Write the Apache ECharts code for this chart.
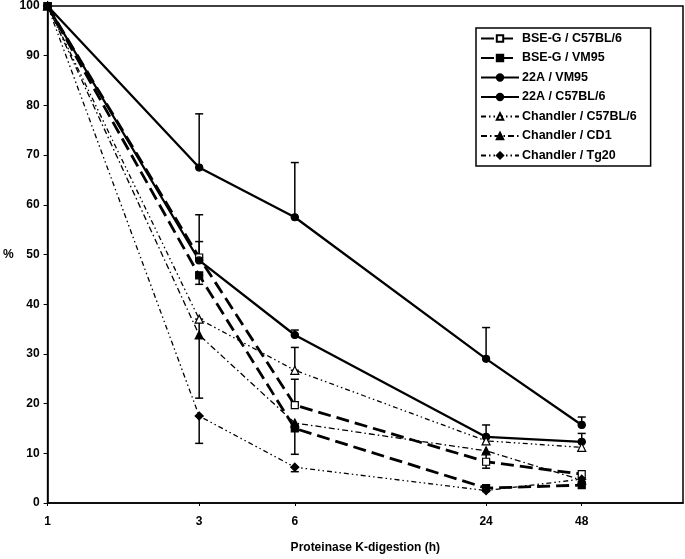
<!DOCTYPE html>
<html>
<head>
<meta charset="utf-8">
<script src="https://cdn.jsdelivr.net/npm/echarts@6/dist/echarts.min.js"></script>
<style>html,body{margin:0;padding:0;background:#fff}#c{width:685px;height:559px}</style>
</head>
<body>
<div id="c"></div>
<script>
var hours = [1, 3, 6, 24, 48];
var tickLabels = [1, 3, 6, 24, 48];
var yTicks = [0, 10, 20, 30, 40, 50, 60, 70, 80, 90, 100];
var bseC57 = [100, 49.4, 19.7, 8.3, 5.8];
var bseVM95 = [100, 45.8, 15.0, 3.0, 3.6];
var a22VM95 = [100, 67.5, 57.5, 29.0, 15.7];
var a22C57 = [100, 48.8, 33.8, 13.3, 12.3];
var chC57 = [100, 37.0, 26.7, 12.5, 11.2];
var chCD1 = [100, 33.8, 16.1, 10.5, 4.6];
var chTg20 = [100, 17.5, 7.2, 2.5, 4.8];
// error bars: [hour, low, high]
var errBars = [
  [3, 67.5, 78.3], [6, 57.5, 68.5], [24, 29.0, 35.3], [48, 15.7, 17.3],
  [3, 48.8, 58.0], [6, 33.8, 34.8], [24, 13.3, 15.7], [48, 12.3, 14.0],
  [3, 49.4, 52.6], [6, 19.7, 24.9],
  [3, 44.0, 45.8], [6, 9.8, 15.0],
  [3, 21.1, 37.0], [6, 26.7, 31.3],
  [3, 12.0, 17.5], [6, 6.3, 7.2],
  [24, 7.0, 10.0], [48, 10.5, 12.3]
];

function pairs(arr) { return hours.map(function (h, i) { return [h, arr[i]]; }); }

var FONT = 'Liberation Sans';
var chart = echarts.init(document.getElementById('c'), null, {renderer: 'canvas'});

function mk(name, data, symbol, fill, width, type, size) {
  return {
    name: name, type: 'line', data: pairs(data), symbol: symbol, symbolSize: size || 7,
    showAllSymbol: true, animation: false, z: 3,
    lineStyle: {color: '#000', width: width, type: type},
    itemStyle: {color: fill, borderColor: '#000', borderWidth: 1.2}
  };
}

var option = {
  animation: false,
  backgroundColor: '#fff',
  grid: {left: 44, right: 2, top: 6, bottom: 51, show: true, borderColor: '#000', borderWidth: 1.5, backgroundColor: 'transparent'},
  xAxis: {
    type: 'log', logBase: 10, min: 1, max: 100,
    name: 'Proteinase K-digestion (h)', nameLocation: 'middle', nameGap: 39,
    nameTextStyle: {fontFamily: FONT, fontWeight: 'bold', fontSize: 12, color: '#000'},
    axisLine: {lineStyle: {color: '#000', width: 1.5}},
    axisTick: {show: true, length: 3, customValues: tickLabels, lineStyle: {color: '#000'}},
    axisLabel: {customValues: tickLabels, fontFamily: FONT, fontWeight: 'bold', fontSize: 12, color: '#000', margin: 13},
    splitLine: {show: false}, minorTick: {show: false}
  },
  yAxis: {
    type: 'value', min: 0, max: 100, interval: 10,
    name: '%', nameLocation: 'middle', nameGap: 30, nameRotate: 0,
    nameTextStyle: {fontFamily: FONT, fontWeight: 'bold', fontSize: 12, color: '#000'},
    axisLine: {show: true, lineStyle: {color: '#000', width: 1.5}},
    axisTick: {show: true, length: 4, lineStyle: {color: '#000'}},
    axisLabel: {fontFamily: FONT, fontWeight: 'bold', fontSize: 12, color: '#000', margin: 8},
    splitLine: {show: false}
  },
  legend: {
    orient: 'vertical', left: 476, top: 28,
    backgroundColor: '#fff', borderColor: '#000', borderWidth: 1.5,
    padding: [4, 14, 4, 4], itemGap: 6.5, itemWidth: 38, itemHeight: 8,
    textStyle: {fontFamily: FONT, fontWeight: 'bold', fontSize: 12.5, color: '#000', padding: [0, 0, 0, -2]},
    data: ['BSE-G / C57BL/6', 'BSE-G / VM95', '22A / VM95', '22A / C57BL/6', 'Chandler / C57BL/6', 'Chandler / CD1', 'Chandler / Tg20']
  },
  series: [
    mk('BSE-G / C57BL/6', bseC57, 'rect', '#fff', 2.8, [13, 6], 7),
    mk('BSE-G / VM95', bseVM95, 'rect', '#000', 2.8, [13, 6], 7),
    mk('22A / VM95', a22VM95, 'circle', '#000', 2.3, 'solid', 7),
    mk('22A / C57BL/6', a22C57, 'circle', '#000', 2.3, 'solid', 7),
    mk('Chandler / C57BL/6', chC57, 'triangle', '#fff', 1.3, [5, 3, 1.5, 3, 1.5, 3], 8),
    mk('Chandler / CD1', chCD1, 'triangle', '#000', 1.3, [6, 3, 1.5, 3], 8),
    mk('Chandler / Tg20', chTg20, 'diamond', '#000', 1.3, [5, 3, 1.5, 3, 1.5, 3], 8),
    {
      type: 'custom', animation: false, z: 2, silent: true,
      data: errBars,
      renderItem: function (params, api) {
        var lo = api.coord([api.value(0), api.value(1)]);
        var hi = api.coord([api.value(0), api.value(2)]);
        var w = 4;
        return {
          type: 'group', children: [
            {type: 'line', shape: {x1: lo[0], y1: lo[1], x2: hi[0], y2: hi[1]}, style: {stroke: '#000', lineWidth: 1.5}},
            {type: 'line', shape: {x1: lo[0] - w, y1: lo[1], x2: lo[0] + w, y2: lo[1]}, style: {stroke: '#000', lineWidth: 1.5}},
            {type: 'line', shape: {x1: hi[0] - w, y1: hi[1], x2: hi[0] + w, y2: hi[1]}, style: {stroke: '#000', lineWidth: 1.5}}
          ]
        };
      }
    }
  ]
};
chart.setOption(option);
</script>
</body>
</html>
